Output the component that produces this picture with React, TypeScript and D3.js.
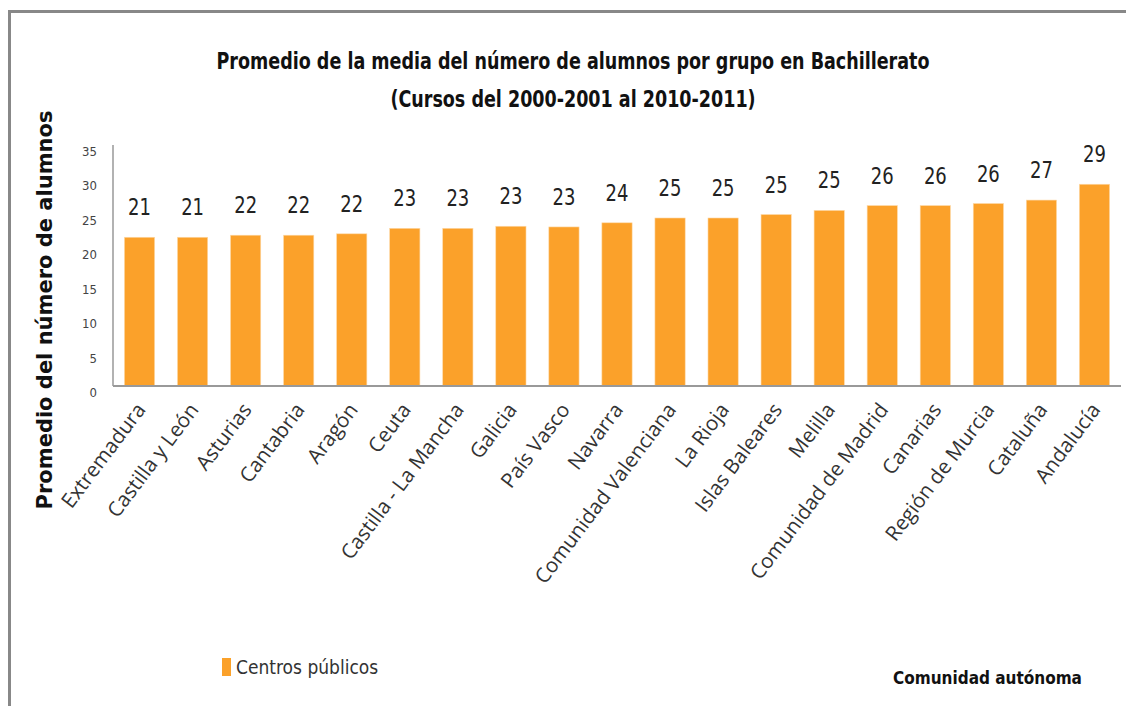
import * as d3 from "d3";

const regions = [
  "Extremadura", "Castilla y León", "Asturias", "Cantabria", "Aragón", "Ceuta",
  "Castilla - La Mancha", "Galicia", "País Vasco", "Navarra", "Comunidad Valenciana",
  "La Rioja", "Islas Baleares", "Melilla", "Comunidad de Madrid", "Canarias",
  "Región de Murcia", "Cataluña", "Andalucía",
];
const barValues = [
  21.6, 21.6, 21.9, 21.9, 22.1, 22.9, 22.9, 23.2, 23.1, 23.7, 24.4,
  24.4, 24.9, 25.5, 26.2, 26.2, 26.5, 27.0, 29.3,
];
const labelValues = [21, 21, 22, 22, 22, 23, 23, 23, 23, 24, 25, 25, 25, 25, 26, 26, 26, 27, 29];
const yTicks = [0, 5, 10, 15, 20, 25, 30, 35];

const W = 1126, H = 706;
const narrow = "'Liberation Sans Narrow', 'DejaVu Sans Condensed', sans-serif";
const orange = "#FBA12A";

export default function App() {
  const x = d3.scaleBand<string>().domain(regions).range([113, 1121]).paddingInner(0.43).paddingOuter(0.215);
  const y = d3.scaleLinear().domain([0, 35]).range([386, 145]);

  return (
    <svg width={W} height={H} style={{ position: "absolute", left: 0, top: 0 }}>
      <rect x={0} y={0} width={W} height={H} fill="#fff" />
      {/* frame */}
      <path d={`M9.5,${H} V11.5 H${W}`} fill="none" stroke="#888" strokeWidth={3} />

      <g fontFamily={narrow} fontWeight="bold" fontSize={19.5} fill="#111" textAnchor="middle">
        <text transform="translate(573,69) scale(1,1.2)">
          Promedio de la media del número de alumnos  por grupo en Bachillerato
        </text>
        <text transform="translate(573,107) scale(1,1.2)">(Cursos del 2000-2001 al 2010-2011)</text>
      </g>

      <text transform="translate(52,310) rotate(-90)" textAnchor="middle" fontFamily="'DejaVu Sans', sans-serif"
        fontWeight="bold" fontSize={21} fill="#111">
        Promedio del número de alumnos
      </text>

      {yTicks.map((t) => (
        <text key={t} x={97} y={y(t) + 11} textAnchor="end" fontFamily={narrow} fontSize={13} fill="#444">
          {t}
        </text>
      ))}

      {regions.map((r, i) => (
        <rect key={r} x={x(r)} y={y(barValues[i])} width={x.bandwidth()} height={y(0) - y(barValues[i])}
          fill={orange} stroke="#FDD9A8" strokeWidth={0.6} />
      ))}

      {regions.map((r, i) => (
        <text key={r} transform={`translate(${(x(r) ?? 0) + x.bandwidth() / 2},${y(barValues[i]) - 22}) scale(1,1.15)`}
          textAnchor="middle" fontFamily={narrow} fontSize={20} fill="#222">
          {labelValues[i]}
        </text>
      ))}

      <line x1={113} x2={113} y1={145} y2={386} stroke="#999" strokeWidth={1.5} />
      <line x1={113} x2={1121} y1={386} y2={386} stroke="#999" strokeWidth={2} />

      {regions.map((r) => (
        <text key={r} transform={`translate(${(x(r) ?? 0) + x.bandwidth() / 2 + 7},410) rotate(-53)`}
          textAnchor="end" fontFamily="'Open Sans', sans-serif" fontSize={20.5} fill="#333">
          {r}
        </text>
      ))}

      <rect x={222} y={658} width={9} height={18} fill={orange} />
      <text x={236} y={674} fontFamily={narrow} fontSize={19} fill="#333">Centros públicos</text>
      <text x={893} y={684} fontFamily={narrow} fontWeight="bold" fontSize={17} fill="#111">Comunidad autónoma</text>
    </svg>
  );
}
